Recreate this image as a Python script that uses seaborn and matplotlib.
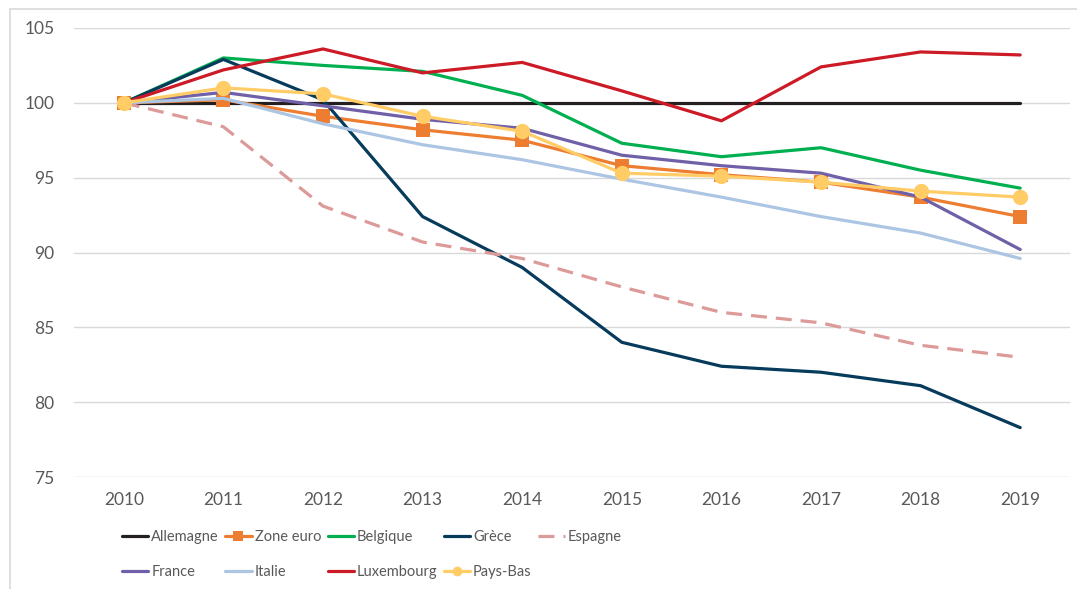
import pandas as pd
import seaborn as sns
import matplotlib.pyplot as plt
from matplotlib.lines import Line2D

years = [2010, 2011, 2012, 2013, 2014, 2015, 2016, 2017, 2018, 2019]

allemagne = [100, 100, 100, 100, 100, 100, 100, 100, 100, 100]
zone_euro = [100, 100.2, 99.1, 98.2, 97.5, 95.8, 95.2, 94.7, 93.7, 92.4]
belgique = [100, 103.0, 102.5, 102.1, 100.5, 97.3, 96.4, 97.0, 95.5, 94.3]
grece = [100, 102.9, 100.2, 92.4, 89.0, 84.0, 82.4, 82.0, 81.1, 78.3]
espagne = [100, 98.4, 93.1, 90.7, 89.6, 87.7, 86.0, 85.3, 83.8, 83.0]
france = [100, 100.7, 99.8, 98.9, 98.3, 96.5, 95.8, 95.3, 93.7, 90.2]
italie = [100, 100.3, 98.6, 97.2, 96.2, 94.9, 93.7, 92.4, 91.3, 89.6]
luxembourg = [100, 102.2, 103.6, 102.0, 102.7, 100.8, 98.8, 102.4, 103.4, 103.2]
pays_bas = [100, 101.0, 100.6, 99.1, 98.1, 95.3, 95.1, 94.7, 94.1, 93.7]

series = [
    ("Allemagne", allemagne, "#231f20", "-", None),
    ("Zone euro", zone_euro, "#ed7d31", "-", "s"),
    ("Belgique", belgique, "#00b050", "-", None),
    ("Grèce", grece, "#073b5c", "-", None),
    ("Espagne", espagne, "#dc9a98", (0, (5, 2.8)), None),
    ("France", france, "#7060a8", "-", None),
    ("Italie", italie, "#abc5e3", "-", None),
    ("Luxembourg", luxembourg, "#cc1a26", "-", None),
    ("Pays-Bas", pays_bas, "#ffcc66", "-", "o"),
]

sns.set_style("white")
plt.rcParams["font.family"] = ["Lato", "DejaVu Sans"]
grey = "#595959"

fig = plt.figure(figsize=(10.77, 5.89), dpi=100)
ax = fig.add_axes([74 / 1077, 1 - 477 / 589, 996 / 1077, 449 / 589])

for name, vals, col, ls, mk in series:
    df = pd.DataFrame({"year": years, "value": vals})
    ms = 10 if mk == "s" else 11
    sns.lineplot(data=df, x="year", y="value", ax=ax, color=col, linewidth=2.3,
                 linestyle=ls, marker=mk, markersize=ms, markeredgecolor=col,
                 markeredgewidth=0, legend=False)

ax.set_xlim(2009.5, 2019.5)
ax.set_ylim(75, 105)
ax.set_yticks([75, 80, 85, 90, 95, 100, 105])
ax.set_xticks(years)
ax.set_xticklabels([str(y) for y in years])
ax.set_xlabel("")
ax.set_ylabel("")
ax.grid(axis="y", color="#d9d9d9", linewidth=1)
ax.set_axisbelow(True)
for s in ax.spines.values():
    s.set_visible(False)
ax.tick_params(axis="x", length=0, pad=11, labelsize=12.5, labelcolor=grey)
ax.tick_params(axis="y", length=0, pad=14, labelsize=12.5, labelcolor=grey)

# legend (two rows, 5 columns) - matplotlib fills column by column
handles = {}
for name, vals, col, ls, mk in series:
    handles[name] = Line2D([0], [0], color=col, linewidth=2.3, linestyle=ls,
                           marker=mk, markersize=7, markeredgewidth=0)
order = ["Allemagne", "France", "Zone euro", "Italie", "Belgique",
         "Luxembourg", "Grèce", "Pays-Bas", "Espagne"]
fig.legend([handles[n] for n in order], order, ncol=5, loc="upper left",
           bbox_to_anchor=(122 / 1077, 1 - 530 / 589), frameon=False,
           fontsize=10.5, labelcolor=grey, handlelength=1.8,
           handletextpad=0.2, columnspacing=0.45, labelspacing=1.45,
           borderpad=0, borderaxespad=0)

# chart border (cropped Excel frame)
fig.add_artist(Line2D([10 / 1077, 1], [1 - 9 / 589, 1 - 9 / 589],
                      color="#d9d9d9", linewidth=1.2))
fig.add_artist(Line2D([10 / 1077, 10 / 1077], [0, 1 - 9 / 589],
                      color="#d9d9d9", linewidth=1.2))

fig.savefig("out.png", dpi=100)
